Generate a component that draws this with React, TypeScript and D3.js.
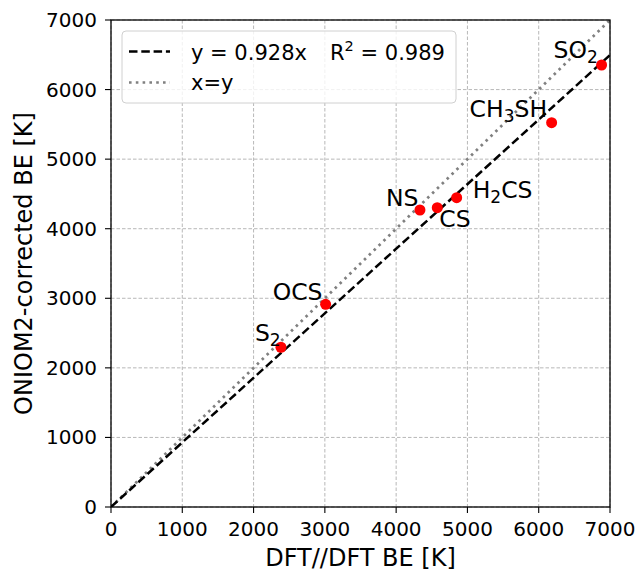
import React from "react";
import * as d3 from "d3";

const species = ["SO2", "CH3SH", "NS", "CS", "H2CS", "OCS", "S2"];
const dftBE = [6882, 6181, 4334, 4577, 4849, 3011, 2384];
const oniomBE = [6353, 5524, 4269, 4302, 4446, 2914, 2296];
// label pieces: [text, isSubscript]
const labelParts: [string, boolean][][] = [
  [["SO", false], ["2", true]],
  [["CH", false], ["3", true], ["SH", false]],
  [["NS", false]],
  [["CS", false]],
  [["H", false], ["2", true], ["CS", false]],
  [["OCS", false]],
  [["S", false], ["2", true]],
];
const labelDx = [-48, -82, -34, 2, 16, -53, -26];
const labelDy = [-7, -6, -4, 19, 0, -4, -6];
const ticks = [0, 1000, 2000, 3000, 4000, 5000, 6000, 7000];
const slope = 0.928;
const r2 = "0.989";

const W = 639;
const H = 571;
const M = { left: 111, right: 29, top: 20, bottom: 64 };
const FONT = "DejaVu Sans, sans-serif";

export default function App() {
  const x = d3.scaleLinear().domain([0, 7000]).range([M.left, W - M.right]);
  const y = d3.scaleLinear().domain([0, 7000]).range([H - M.bottom, M.top]);
  const line = d3
    .line<[number, number]>()
    .x((d) => x(d[0]))
    .y((d) => y(d[1]));
  const fitPts: [number, number][] = [
    [0, 0],
    [7000, 7000 * slope],
  ];
  const idPts: [number, number][] = [
    [0, 0],
    [7000, 7000],
  ];
  const x0 = x(0),
    x1 = x(7000),
    y0 = y(0),
    y1 = y(7000);

  return (
    <svg width={W} height={H} style={{ position: "absolute", left: 0, top: 0, background: "#fff" }} fontFamily={FONT}>
      <defs>
        <clipPath id="plot">
          <rect x={x0} y={y1} width={x1 - x0} height={y0 - y1} />
        </clipPath>
      </defs>
      {/* grid */}
      {ticks.map((t) => (
        <g key={"g" + t}>
          <line x1={x(t)} x2={x(t)} y1={y1} y2={y0} stroke="#b0b0b0" strokeWidth={0.9} strokeDasharray="3.5,2" />
          <line x1={x0} x2={x1} y1={y(t)} y2={y(t)} stroke="#b0b0b0" strokeWidth={0.9} strokeDasharray="3.5,2" />
        </g>
      ))}
      <g clipPath="url(#plot)">
        <path d={line(idPts) || ""} fill="none" stroke="#808080" strokeWidth={2.7} strokeDasharray="2.6,4.2" />
        <path d={line(fitPts) || ""} fill="none" stroke="#000" strokeWidth={2.5} strokeDasharray="8.5,3.8" />
      </g>
      {/* points */}
      {dftBE.map((v, i) => (
        <circle key={"p" + i} cx={x(v)} cy={y(oniomBE[i])} r={5.5} fill="#ff0000" />
      ))}
      {/* labels */}
      {species.map((s, i) => (
        <text key={"l" + s} x={x(dftBE[i]) + labelDx[i]} y={y(oniomBE[i]) + labelDy[i]} fontSize={23.5} fill="#000">
          {labelParts[i].map(([t, sub], j) =>
            sub ? (
              <tspan key={j} fontSize={17} dy={5}>
                {t}
              </tspan>
            ) : (
              <tspan key={j} dy={j > 0 && labelParts[i][j - 1][1] ? -5 : 0}>
                {t}
              </tspan>
            )
          )}
        </text>
      ))}
      {/* spines */}
      <rect x={x0} y={y1} width={x1 - x0} height={y0 - y1} fill="none" stroke="#000" strokeWidth={1.3} />
      {/* ticks */}
      {ticks.map((t) => (
        <g key={"t" + t}>
          <line x1={x(t)} x2={x(t)} y1={y0} y2={y0 + 6} stroke="#000" strokeWidth={1.1} />
          <text x={x(t)} y={y0 + 29} fontSize={20} textAnchor="middle">
            {t}
          </text>
          <line x1={x0 - 6} x2={x0} y1={y(t)} y2={y(t)} stroke="#000" strokeWidth={1.1} />
          <text x={x0 - 14} y={y(t) + 7} fontSize={20} textAnchor="end">
            {t}
          </text>
        </g>
      ))}
      {/* axis labels */}
      <text x={(x0 + x1) / 2} y={566} fontSize={24} textAnchor="middle">
        DFT//DFT BE [K]
      </text>
      <text transform={`translate(32, ${(y0 + y1) / 2}) rotate(-90)`} fontSize={24} textAnchor="middle">
        ONIOM2-corrected BE [K]
      </text>
      {/* legend */}
      <g>
        <rect x={122} y={31} width={334} height={72} rx={4} fill="#fff" fillOpacity={0.8} stroke="#d0d0d0" strokeWidth={1} />
        <line x1={129} x2={170} y1={51.5} y2={51.5} stroke="#000" strokeWidth={2.5} strokeDasharray="8.5,3.8" />
        <text x={191} y={60} fontSize={21} style={{ whiteSpace: "pre" }}>
          <tspan>{`y = ${slope}x`}</tspan>
          <tspan x={330}>R</tspan>
          <tspan fontSize={14.5} dy={-9}>2</tspan>
          <tspan dy={9}>{` = ${r2}`}</tspan>
        </text>
        <line x1={129} x2={170} y1={82.5} y2={82.5} stroke="#808080" strokeWidth={2.7} strokeDasharray="2.6,4.2" />
        <text x={191} y={90} fontSize={21}>
          x=y
        </text>
      </g>
    </svg>
  );
}
